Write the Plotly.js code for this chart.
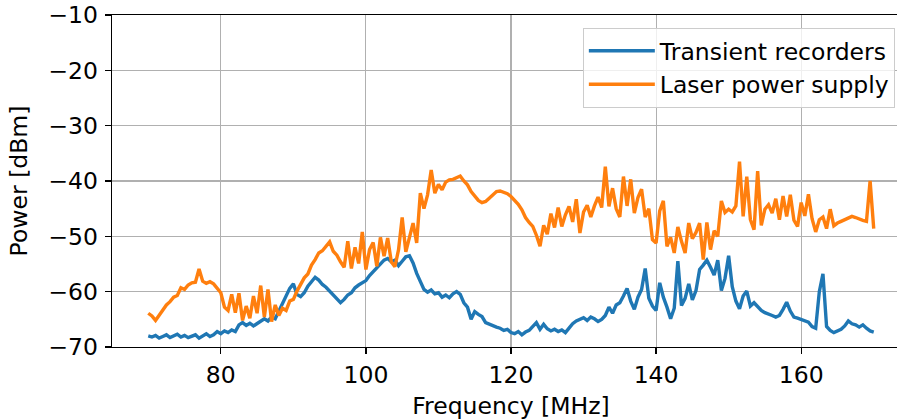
<!DOCTYPE html>
<html>
<head>
<meta charset="utf-8">
<script src="https://cdn.plot.ly/plotly-3.0.1.min.js"></script>
<style>
html, body { margin: 0; padding: 0; overflow: hidden; background: #fff; }
#wrap { width: 897px; height: 420px; overflow: hidden; }
#chart { width: 910px; height: 420px; }
</style>
</head>
<body>
<div id="wrap"><div id="chart"></div></div>
<script>
const freq = [70,70.5,71,71.5,72,72.5,73,73.5,74,74.5,75,75.5,76,76.5,77,77.5,78,78.5,79,79.5,
80,80.5,81,81.5,82,82.5,83,83.5,84,84.5,85,85.5,86,86.5,87,87.5,88,88.5,89,89.5,
90,90.5,91,91.5,92,92.5,93,93.5,94,94.5,95,95.5,96,96.5,97,97.5,98,98.5,99,99.5,
100,100.5,101,101.5,102,102.5,103,103.5,104,104.5,105,105.5,106,106.5,107,107.5,108,108.5,109,109.5,
110,110.5,111,111.5,112,112.5,113,113.5,114,114.5,115,115.5,116,116.5,117,117.5,118,118.5,119,119.5,
120,120.5,121,121.5,122,122.5,123,123.5,124,124.5,125,125.5,126,126.5,127,127.5,128,128.5,129,129.5,
130,130.5,131,131.5,132,132.5,133,133.5,134,134.5,135,135.5,136,136.5,137,137.5,138,138.5,139,139.5,
140,140.5,141,141.5,142,142.5,143,143.5,144,144.5,145,145.5,146,146.5,147,147.5,148,148.5,149,149.5,
150,150.5,151,151.5,152,152.5,153,153.5,154,154.5,155,155.5,156,156.5,157,157.5,158,158.5,159,159.5,
160,160.5,161,161.5,162,162.5,163,163.5,164,164.5,165,165.5,166,166.5,167,167.5,168,168.5,169,169.5,170];

const transientRecorders = [-68.0,-68.2,-67.9,-68.4,-68.1,-67.8,-68.3,-68.0,-67.7,-68.2,-67.9,-68.3,-68.1,-67.8,-68.4,-68.0,-67.6,-68.1,-67.8,-67.2,
-67.6,-67.1,-67.4,-66.9,-67.2,-66.0,-65.6,-66.1,-65.7,-66.2,-65.8,-65.4,-64.9,-65.3,-64.6,-64.9,-63.5,-62.3,-61.0,-59.4,
-58.6,-60.5,-60.9,-60.2,-59.0,-58.3,-57.4,-57.9,-58.7,-59.2,-59.9,-60.4,-61.2,-62.0,-61.4,-60.6,-60.2,-59.3,-58.8,-58.4,
-58.0,-57.1,-56.4,-55.8,-55.0,-54.3,-54.0,-54.6,-54.3,-55.3,-54.5,-53.7,-53.5,-54.8,-56.7,-58.2,-59.6,-60.1,-59.7,-60.4,
-60.2,-61.0,-60.6,-61.1,-60.4,-60.0,-60.5,-62.0,-62.8,-65.0,-63.6,-64.1,-64.5,-65.6,-65.9,-66.2,-66.4,-66.6,-67.0,-66.8,
-67.4,-67.6,-67.2,-67.8,-67.3,-67.0,-66.4,-65.6,-66.8,-65.9,-66.7,-67.1,-66.8,-67.2,-66.9,-67.4,-66.6,-65.8,-65.3,-65.0,
-64.7,-65.2,-64.6,-64.9,-65.4,-65.0,-64.3,-62.8,-63.9,-62.4,-62.0,-60.8,-59.4,-61.7,-63.2,-61.0,-59.6,-55.8,-61.2,-62.6,
-63.4,-58.4,-61.0,-62.8,-64.9,-63.0,-54.5,-62.5,-61.2,-58.6,-61.5,-59.8,-56.0,-55.2,-54.3,-55.6,-57.0,-54.3,-59.8,-57.6,
-53.5,-59.1,-61.7,-63.1,-60.8,-59.9,-62.6,-62.0,-62.8,-63.4,-63.8,-64.0,-64.3,-64.6,-64.3,-63.2,-61.9,-63.5,-64.6,-64.8,
-65.0,-65.3,-65.5,-66.3,-66.6,-60.0,-56.8,-66.3,-67.0,-67.4,-67.1,-66.8,-66.2,-65.3,-65.8,-66.0,-66.4,-66.0,-66.6,-67.1,-67.3];

const laserPowerSupply = [-63.9,-64.4,-65.2,-64.3,-63.2,-62.4,-61.8,-61.0,-60.7,-59.3,-59.6,-58.8,-58.4,-58.3,-55.9,-58.1,-58.5,-58.2,-58.6,-59.3,
-60.2,-62.8,-63.4,-60.5,-63.8,-60.3,-65.2,-62.6,-64.8,-60.8,-63.9,-58.9,-64.6,-59.6,-65.4,-62.4,-64.3,-63.0,-63.4,-61.7,
-61.4,-59.9,-58.8,-57.5,-56.8,-55.2,-54.2,-53.0,-52.6,-51.9,-51.0,-52.7,-53.4,-54.6,-55.6,-50.9,-55.8,-52.0,-54.9,-49.2,
-56.0,-52.4,-51.1,-55.4,-50.2,-53.6,-50.3,-54.6,-55.5,-52.4,-46.6,-52.8,-49.9,-47.6,-51.2,-42.2,-45.0,-42.5,-38.0,-42.2,
-40.6,-41.6,-40.2,-39.8,-39.7,-39.4,-39.1,-40.0,-40.7,-41.9,-42.8,-43.5,-43.9,-43.7,-43.1,-42.4,-41.9,-41.8,-42.0,-42.3,
-42.8,-43.4,-44.2,-45.2,-46.6,-47.5,-48.2,-49.8,-51.8,-48.0,-49.6,-45.9,-48.4,-44.8,-48.2,-46.1,-44.6,-47.4,-43.3,-49.4,
-45.6,-44.4,-46.5,-44.5,-42.9,-44.8,-37.4,-44.6,-41.3,-45.0,-46.5,-39.2,-44.5,-39.7,-45.8,-43.0,-41.5,-46.5,-45.0,-50.6,
-51.2,-45.4,-43.6,-51.8,-50.2,-53.0,-48.3,-50.9,-53.0,-47.6,-50.4,-49.3,-47.6,-54.2,-47.5,-52.4,-49.0,-50.0,-43.6,-45.7,
-45.1,-45.6,-44.5,-36.5,-46.4,-39.2,-47.0,-48.8,-38.2,-48.0,-45.1,-44.3,-45.8,-43.2,-47.0,-42.7,-46.4,-42.5,-47.1,-48.2,
-43.9,-46.3,-42.4,-46.8,-49.2,-47.0,-46.5,-48.6,-45.1,-48.1,-47.6,-47.3,-47.0,-46.7,-46.4,-46.6,-46.9,-47.1,-47.3,-40.0,-48.6];

const seriesNames = ["Transient recorders", "Laser power supply"];
const xTicks = [80, 100, 120, 140, 160];
const yTicks = [-70, -60, -50, -40, -30, -20, -10];

const font = {family: "DejaVu Sans", size: 23.5, color: "#000"};

const traces = [
  {x: freq, y: transientRecorders, name: seriesNames[0], type: "scatter", mode: "lines",
   line: {color: "#1f77b4", width: 3.4}},
  {x: freq, y: laserPowerSupply, name: seriesNames[1], type: "scatter", mode: "lines",
   line: {color: "#ff7f0e", width: 3.4}}
];

const layout = {
  width: 910, height: 420,
  margin: {l: 112, r: 0, t: 15, b: 73, pad: 0},
  paper_bgcolor: "#fff", plot_bgcolor: "#fff",
  font: font,
  showlegend: true,
  legend: {x: 0.981, y: 0.961, xanchor: "right", yanchor: "top",
           bgcolor: "rgba(255,255,255,0.8)", bordercolor: "#cccccc", borderwidth: 1,
           font: font, tracegroupgap: 0, itemwidth: 66},
  xaxis: {range: [65, 175], tickvals: xTicks, ticks: "outside", ticklen: 6, tickwidth: 1.3,
          tickcolor: "#000", showline: true, mirror: true, linecolor: "#000", linewidth: 1.3,
          showgrid: true, gridcolor: "#b0b0b0", gridwidth: 1.1, zeroline: false, ticklabelstandoff: 0,
          title: {text: "Frequency [MHz]", font: font, standoff: 10}, tickfont: font},
  yaxis: {range: [-70, -10], tickvals: yTicks, ticks: "outside", ticklen: 6, tickwidth: 1.3,
          tickcolor: "#000", showline: true, mirror: false, linecolor: "#000", linewidth: 1.3,
          showgrid: true, gridcolor: "#b0b0b0", gridwidth: 1.1, zeroline: false, ticklabelstandoff: 2,
          title: {text: "Power [dBm]", font: font, standoff: 14}, tickfont: font}
};

Plotly.newPlot("chart", traces, layout, {displayModeBar: false, staticPlot: true});
</script>
</body>
</html>
